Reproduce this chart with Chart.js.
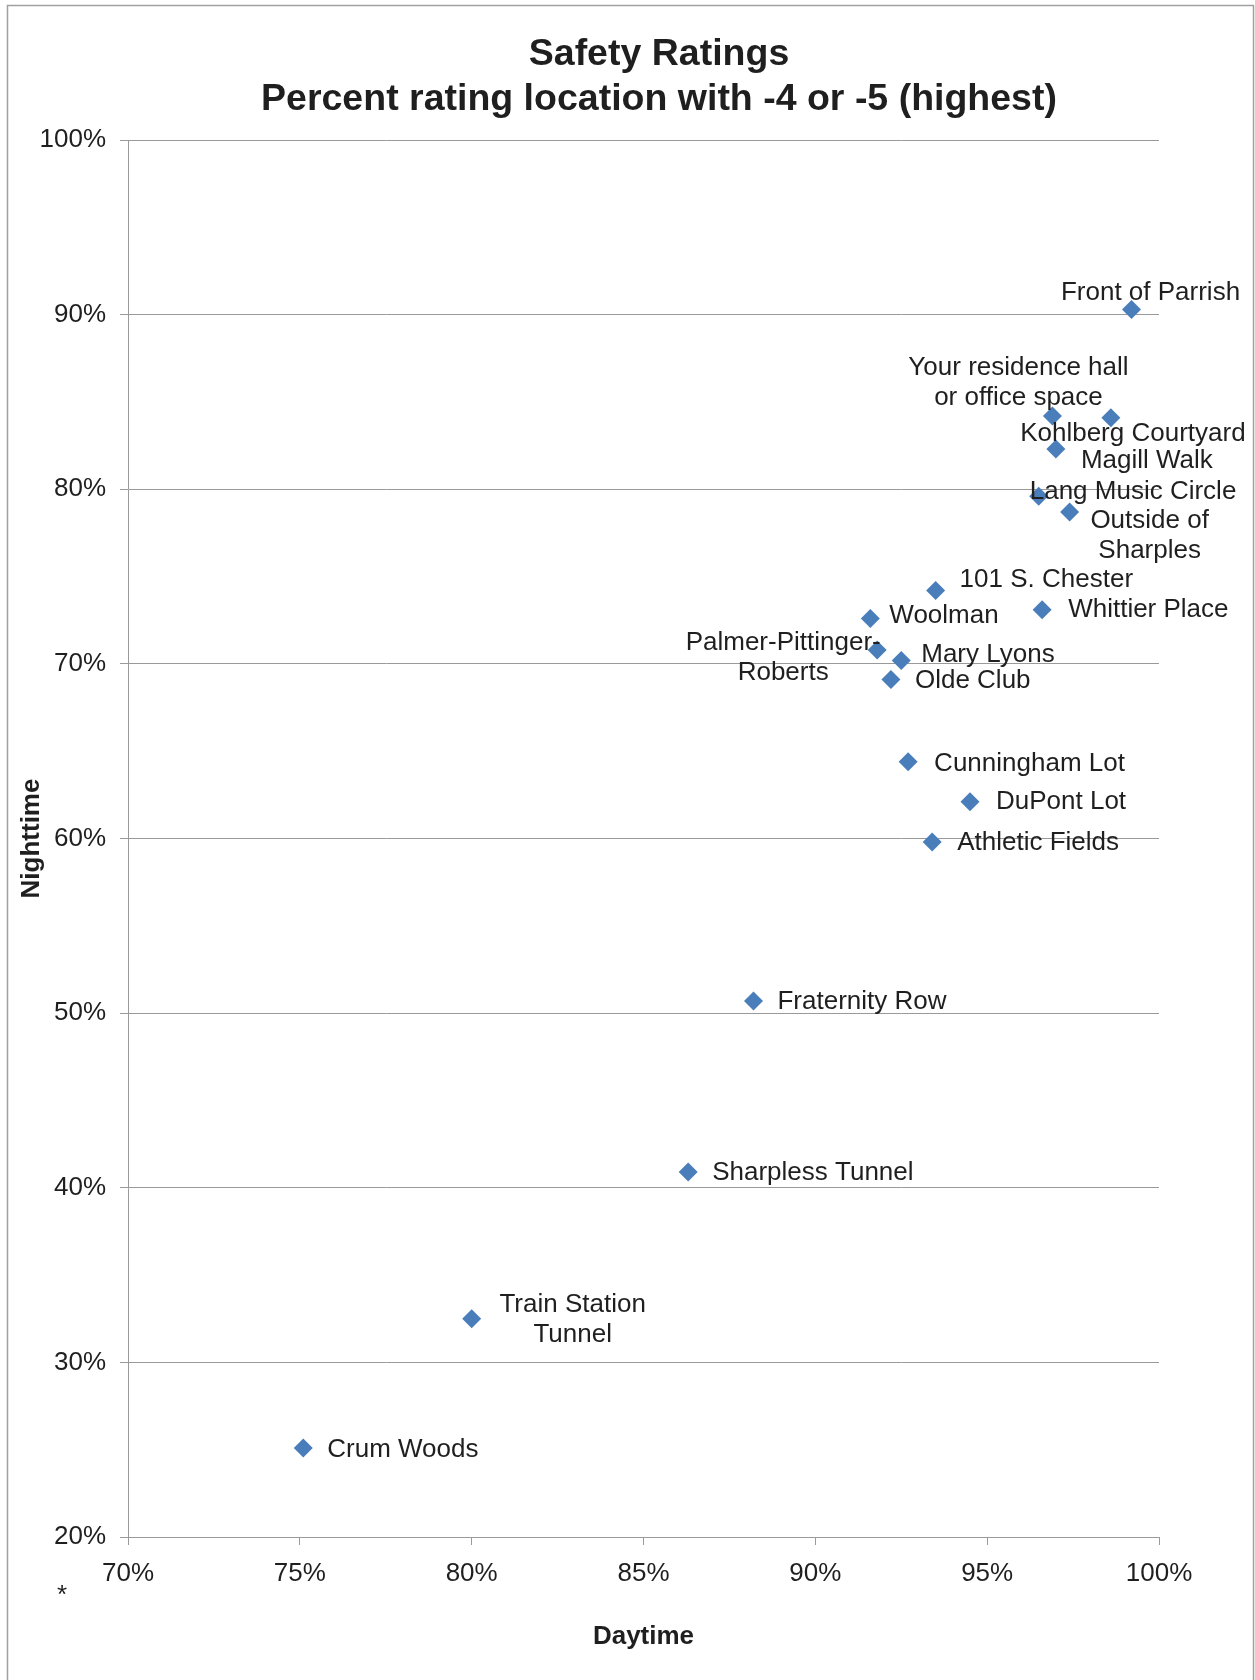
<!DOCTYPE html>
<html>
<head>
<meta charset="utf-8">
<script src="https://cdn.jsdelivr.net/npm/chart.js@4.4.1/dist/chart.umd.min.js"></script>
<style>
  html, body { margin: 0; padding: 0; background: #fff; }
  #wrap { position: relative; width: 1255px; height: 1680px; }
</style>
</head>
<body>
<div id="wrap"><canvas id="chart"></canvas></div>
<script>
// Lokasi dan persentase rating -4 / -5
const names = [
  'Front of Parrish', 'Your residence hall\nor office space', 'Kohlberg Courtyard', 'Magill Walk',
  'Lang Music Circle', 'Outside of\nSharples', '101 S. Chester', 'Whittier Place',
  'Woolman', 'Palmer-Pittinger-\nRoberts', 'Mary Lyons', 'Olde Club',
  'Cunningham Lot', 'DuPont Lot', 'Athletic Fields', 'Fraternity Row',
  'Sharpless Tunnel', 'Train Station\nTunnel', 'Crum Woods'
];
const daytime = [99.2, 96.9, 98.6, 97.0, 96.5, 97.4, 93.5, 96.6, 91.6, 91.8, 92.5, 92.2, 92.7, 94.5, 93.4, 88.2, 86.3, 80.0, 75.1];
const nighttime = [90.3, 84.2, 84.1, 82.3, 79.6, 78.7, 74.2, 73.1, 72.6, 70.8, 70.2, 69.1, 64.4, 62.1, 59.8, 50.7, 40.9, 32.5, 25.1];
const xTicks = [70, 75, 80, 85, 90, 95, 100];
const yTicks = [20, 30, 40, 50, 60, 70, 80, 90, 100];
const titleLines = ['Safety Ratings', 'Percent rating location with -4 or -5 (highest)'];

// posisi label (dx, dy, align) relatif ke titik
const labelPos = [
  [19, -17, 'center'], [-34, -33, 'center'], [22, 16, 'center'], [25, 12, 'left'],
  [-9, -4, 'left'], [80, 24, 'center'], [24, -11, 'left'], [26, 0, 'left'],
  [19, -3, 'left'], [-94, 8, 'center'], [20, -6, 'left'], [24, 1, 'left'],
  [26, 2, 'left'], [26, 0, 'left'], [25, 1, 'left'], [24, 1, 'left'],
  [24, 1, 'left'], [101, 1, 'center'], [24, 2, 'left']
];

const FONT = "'Liberation Sans', Arial, sans-serif";
const GRAY = '#9a9a9a';
const TEXT = '#1f1f1f';

const points = daytime.map((d, i) => ({ x: d, y: nighttime[i] }));

// judul, label titik, bingkai
const labelPlugin = {
  id: 'labels',
  beforeDraw(chart) {
    const ctx = chart.ctx;
    ctx.save();
    ctx.strokeStyle = '#a0a0a0';
    ctx.lineWidth = 1.5;
    ctx.strokeRect(7.5, 5.5, 1246, 1700);
    ctx.font = 'bold 37.5px ' + FONT;
    ctx.fillStyle = TEXT;
    ctx.textAlign = 'center';
    ctx.textBaseline = 'middle';
    titleLines.forEach((t, k) => ctx.fillText(t, 659, 55 + k * 45));
    ctx.restore();
  },
  afterDatasetsDraw(chart) {
    const ctx = chart.ctx;
    const meta = chart.getDatasetMeta(0);
    ctx.save();
    ctx.font = '26px ' + FONT;
    ctx.fillStyle = TEXT;
    ctx.textBaseline = 'middle';
    meta.data.forEach((pt, i) => {
      const [dx, dy, align] = labelPos[i];
      const lines = names[i].split('\n');
      const lh = 30;
      ctx.textAlign = align;
      lines.forEach((ln, k) => {
        const y = pt.y + dy + (k - (lines.length - 1) / 2) * lh;
        ctx.fillText(ln, pt.x + dx, y);
      });
    });
    ctx.textAlign = 'left';
    ctx.fillText('*', 57, 1596);
    ctx.restore();
  }
};

new Chart(document.getElementById('chart'), {
  type: 'scatter',
  data: {
    datasets: [{
      data: points,
      pointStyle: 'rectRot',
      pointRadius: 9.5,
      pointHoverRadius: 9.5,
      backgroundColor: '#4a7ebb',
      borderColor: '#4a7ebb',
      borderWidth: 0,
    }],
  },
  options: {
    responsive: true,
    maintainAspectRatio: false,
    animation: false,
    layout: { padding: { top: 140, left: 10, right: 96, bottom: 28 } },
    plugins: {
      legend: { display: false },
      tooltip: { enabled: false },
      title: { display: false },
    },
    scales: {
      x: {
        type: 'linear',
        min: 70, max: 100,
        afterBuildTicks: (s) => { s.ticks = xTicks.map(v => ({ value: v })); },
        afterFit: (s) => { s.height = 115; },
        ticks: {
          callback: (v) => v + '%',
          color: TEXT,
          font: { family: FONT, size: 26 },
          padding: 13,
          maxRotation: 0,
        },
        grid: { drawOnChartArea: false, color: GRAY, tickLength: 8, tickColor: GRAY },
        border: { color: GRAY },
        title: {
          display: true,
          text: 'Daytime',
          color: TEXT,
          font: { family: FONT, size: 26, weight: 'bold', lineHeight: 1.2 },
          padding: { top: 4, bottom: 0 },
        },
      },
      y: {
        type: 'linear',
        min: 20, max: 100,
        afterBuildTicks: (s) => { s.ticks = yTicks.map(v => ({ value: v })); },
        afterFit: (s) => { s.width = 118; },
        ticks: {
          callback: (v) => v + '%',
          color: TEXT,
          font: { family: FONT, size: 26 },
          padding: 14,
        },
        grid: { color: GRAY, tickLength: 8, tickColor: GRAY },
        border: { color: GRAY },
        title: {
          display: true,
          text: 'Nighttime',
          color: TEXT,
          font: { family: FONT, size: 26, weight: 'bold', lineHeight: 1.2 },
          padding: { top: 6, bottom: 0 },
        },
      },
    },
  },
  plugins: [labelPlugin],
});
</script>
</body>
</html>
